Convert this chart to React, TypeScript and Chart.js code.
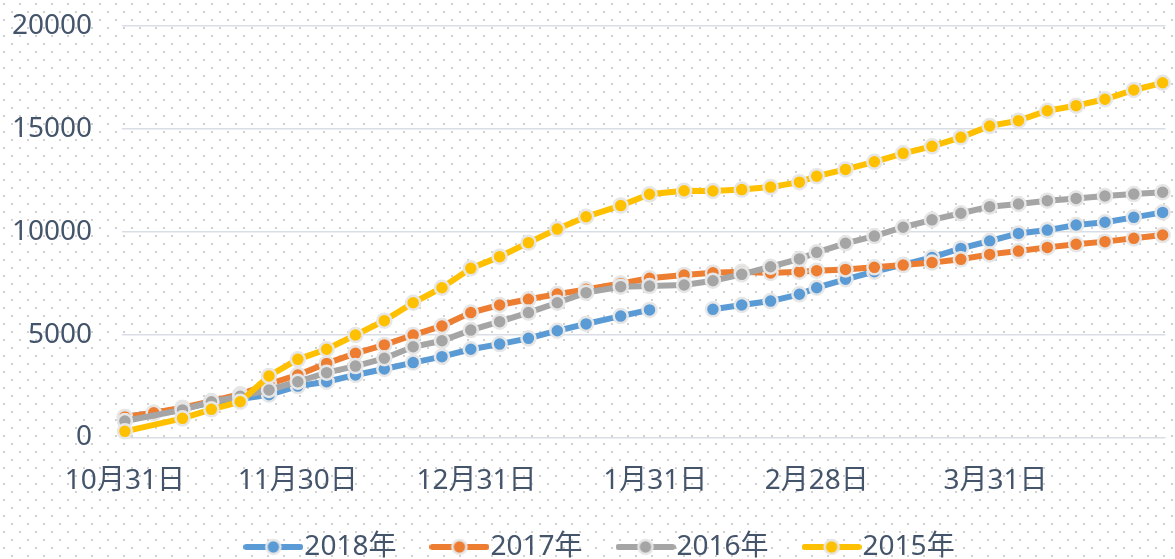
import React, { useEffect, useRef } from 'react';
import { Chart, registerables } from 'chart.js';

Chart.register(...registerables);

// days since 10月31日
const days = [0, 5, 10, 15, 20, 25, 30, 35, 40, 45, 50, 55, 60, 65, 70, 75, 80, 86, 91, 97, 102, 107, 112, 117, 120, 125, 130, 135, 140, 145, 150, 155, 160, 165, 170, 175, 180];

const s2018 = [1000, 1200, 1400, 1700, 1870, 2080, 2500, 2710, 3040, 3330, 3640, 3930, 4290, 4540, 4820, 5190, 5520, 5900, 6200, null, 6230, 6440, 6630, 6960, 7280, 7690, 8060, 8400, 8750, 9190, 9550, 9920, 10080, 10330, 10460, 10700, 10940];
const s2017 = [1000, 1200, 1450, 1770, 2100, 2600, 3040, 3600, 4090, 4500, 4980, 5420, 6070, 6440, 6720, 6970, 7200, 7490, 7740, 7900, 8010, 8050, 8000, 8060, 8110, 8170, 8270, 8380, 8500, 8660, 8900, 9060, 9240, 9390, 9520, 9680, 9840];
const s2016 = [800, null, 1340, 1740, 2000, 2310, 2710, 3150, 3470, 3850, 4410, 4700, 5220, 5630, 6070, 6550, 7040, 7330, 7360, 7410, 7620, 7930, 8300, 8680, 9000, 9440, 9790, 10220, 10580, 10900, 11220, 11350, 11510, 11620, 11740, 11830, 11920];
const s2015 = [300, null, 930, 1370, 1740, 2990, 3800, 4290, 4980, 5680, 6550, 7280, 8220, 8790, 9470, 10130, 10730, 11270, 11820, 11990, 11980, 12050, 12170, 12410, 12700, 13030, 13400, 13810, 14150, 14590, 15140, 15400, 15880, 16130, 16440, 16890, 17240];

const seriesNames = ['2018年', '2017年', '2016年', '2015年'];
const seriesColors = ['#5B9BD5', '#ED7D31', '#A5A5A5', '#FFC000'];

const tickDays = [0, 30, 61, 92, 120, 151];
const tickLabels = ['10月31日', '11月30日', '12月31日', '1月31日', '2月28日', '3月31日'];

const yTicks = [0, 5000, 10000, 15000, 20000];

const TEXT = '#44546A';
const FONT = { family: '"Noto Sans", "Noto Sans CJK SC", sans-serif', size: 28 };

function legendImage(color: string) {
  const c = document.createElement('canvas');
  c.width = 60;
  c.height = 20;
  const g = c.getContext('2d')!;
  g.strokeStyle = color;
  g.lineWidth = 6;
  g.lineCap = 'round';
  g.beginPath();
  g.moveTo(3, 10);
  g.lineTo(57, 10);
  g.stroke();
  g.beginPath();
  g.arc(30, 10, 7, 0, Math.PI * 2);
  g.fillStyle = color;
  g.fill();
  g.lineWidth = 2.5;
  g.strokeStyle = '#e6e6e6';
  g.stroke();
  return c;
}

const dotsPlugin = {
  id: 'dotsBg',
  beforeDraw(chart: any) {
    const { ctx, width, height } = chart;
    const p = document.createElement('canvas');
    p.width = 16;
    p.height = 16;
    const g = p.getContext('2d')!;
    g.fillStyle = '#d0d0d0';
    g.fillRect(0, 0, 2, 2);
    g.fillRect(8, 8, 2, 2);
    ctx.save();
    ctx.fillStyle = '#ffffff';
    ctx.fillRect(0, 0, width, height);
    const pat = ctx.createPattern(p, 'repeat');
    ctx.translate(3, 3);
    ctx.fillStyle = pat;
    ctx.fillRect(-3, -3, width, height);
    ctx.restore();
  },
};

const legendShift = {
  id: 'legendShift',
  afterLayout(chart: any) {
    const lg = chart.legend;
    if (lg) {
      const h = lg.bottom - lg.top;
      lg.left += 18;
      lg.right += 18;
      lg.top = 487;
      lg.bottom = 487 + h;
    }
  },
};

export default function App() {
  const ref = useRef<HTMLCanvasElement>(null);

  useEffect(() => {
    const all = [s2018, s2017, s2016, s2015];
    const imgs = seriesColors.map(legendImage);
    const datasets = all.map((s, k) => ({
      label: seriesNames[k],
      data: days.map((d, i) => ({ x: d, y: s[i] })),
      borderColor: seriesColors[k],
      backgroundColor: seriesColors[k],
      borderWidth: 6,
      pointRadius: 7,
      pointBorderWidth: 2.5,
      pointBackgroundColor: seriesColors[k],
      pointBorderColor: '#e6e6e6',
      tension: 0,
      spanGaps: k >= 2,
      order: 4 - k,
      clip: false as any,
    }));

    const chart = new Chart(ref.current!, {
      type: 'line',
      data: { datasets },
      plugins: [dotsPlugin, legendShift],
      options: {
        responsive: false,
        animation: false,
        events: [],
        layout: { padding: { top: 26, left: 0, right: 0, bottom: 8.5 } },
        scales: {
          x: {
            type: 'linear',
            min: -0.5,
            max: 180.5,
            grid: { display: false, drawTicks: false },
            border: { display: false },
            afterBuildTicks: (s: any) => {
              s.ticks = tickDays.map((v) => ({ value: v }));
            },
            afterFit: (s: any) => {
              s.height = 70;
            },
            ticks: {
              padding: 27,
              color: TEXT,
              font: FONT,
              maxRotation: 0,
              autoSkip: false,
              callback: (v: any) => {
                const i = tickDays.indexOf(Number(v));
                return i >= 0 ? tickLabels[i] : '';
              },
            },
          },
          y: {
            min: 0,
            max: 20000,
            afterBuildTicks: (s: any) => {
              s.ticks = yTicks.map((v) => ({ value: v }));
            },
            afterFit: (s: any) => {
              s.width = 122;
            },
            grid: { color: '#d9dee6', lineWidth: 1.5, drawTicks: true, tickLength: 30, tickColor: 'rgba(0,0,0,0)' },
            border: { display: false },
            ticks: {
              padding: 0,
              color: TEXT,
              font: FONT,
              callback: (v: any) => String(v),
            },
          },
        },
        plugins: {
          tooltip: { enabled: false },
          legend: {
            position: 'bottom',
            labels: {
              usePointStyle: true,
              pointStyleWidth: 34,
              padding: 46,
              color: TEXT,
              font: FONT,
              generateLabels: (c: any) => {
                const items = (Chart.defaults.plugins.legend.labels.generateLabels as any)(c);
                items.sort((a: any, b: any) => a.datasetIndex - b.datasetIndex);
                items.forEach((it: any) => {
                  it.pointStyle = imgs[it.datasetIndex];
                });
                return items;
              },
            },
          },
        },
      },
    });
    return () => chart.destroy();
  }, []);

  return (
    <div style={{ position: 'absolute', left: 0, top: 0, width: 1175, height: 559, overflow: 'hidden', background: '#fff' }}>
      <canvas ref={ref} width={1175} height={600} style={{ display: 'block' }} />
    </div>
  );
}
